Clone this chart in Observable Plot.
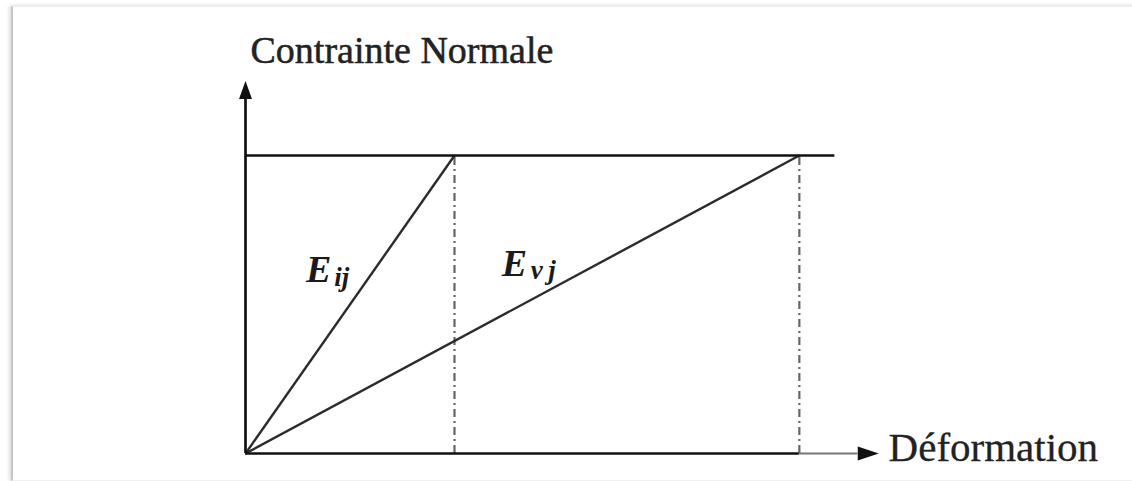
<!DOCTYPE html>
<html>
<head>
<meta charset="utf-8">
<script src="https://cdn.jsdelivr.net/npm/d3@7"></script>
<script src="https://cdn.jsdelivr.net/npm/@observablehq/plot@0.6"></script>
<style>
  html, body { margin: 0; padding: 0; background: #fff; }
  #wrap { position: relative; width: 1132px; height: 481px; overflow: hidden; }
  #frame {
    position: absolute; left: 11px; top: 6px; width: 1140px; height: 473px;
    border-left: 2px solid #c6c6c6; border-top: 1px solid #ededed; border-bottom: 1px solid #f0f0f0;
    box-shadow: -2px 0 4px rgba(0,0,0,0.12), 0 -2px 4px rgba(0,0,0,0.04);
  }
  #chart { position: absolute; left: 0; top: 0; }
</style>
</head>
<body>
<div id="wrap"><div id="frame"></div><div id="chart"></div></div>
<script>
// ---- data (arbitrary units: strain on x, normal stress on y) ----
const stressMax = 1.0;                       // contrainte maximale
const moduli = [                              // strain reached at stressMax
  {name: "ij", strain: 1.0},                  // module instantané E_ij
  {name: "vj", strain: 2.65}                  // module différé E_vj
];
const topLineEnd = 2.82;                      // end of the horizontal stress line
const xAxisBase = 2.93, xAxisTip = 3.03;      // x arrow
const yAxisBase = 1.19, yAxisTip = 1.25;      // y arrow
const axisTitles = {y: "Contrainte Normale", x: "Déformation"};
const labels = [
  {base: "E", sub: "ij", x: 0.29, y: 0.574, xs: 0.425, ys: 0.562},
  {base: "E", sub: "v\u2009j", x: 1.226, y: 0.594, xs: 1.365, ys: 0.584}
];

const triUp = {draw(ctx) { ctx.moveTo(0, 0); ctx.lineTo(-6.5, 18); ctx.lineTo(6.5, 18); ctx.closePath(); }};
const triRight = {draw(ctx) { ctx.moveTo(0, 0); ctx.lineTo(-21, -7); ctx.lineTo(-21, 7); ctx.closePath(); }};

const serif = "'Liberation Serif', 'Times New Roman', serif";

const chart = Plot.plot({
  width: 1132, height: 481,
  marginLeft: 245, marginRight: 260, marginTop: 155, marginBottom: 28,
  x: {domain: [0, 3], axis: null},
  y: {domain: [0, 1], axis: null},
  style: {background: "transparent", overflow: "visible"},
  marks: [
    // dash-dot verticals at the strains reached
    Plot.ruleX(moduli, {x: "strain", y1: 0, y2: stressMax, stroke: "#666", strokeWidth: 2.2, strokeDasharray: "8,4,2,4"}),
    // moduli lines
    Plot.link(moduli, {x1: 0, y1: 0, x2: "strain", y2: stressMax, stroke: "#2b2b2b", strokeWidth: 2.4}),
    // stress level line
    Plot.ruleY([stressMax], {x1: 0, x2: topLineEnd, stroke: "#111", strokeWidth: 2.5}),
    // axes
    Plot.ruleX([0], {y1: 0, y2: yAxisBase, stroke: "#111", strokeWidth: 2.7}),
    Plot.ruleY([0], {x1: 0, x2: moduli[1].strain, stroke: "#111", strokeWidth: 2.7}),
    Plot.ruleY([0], {x1: moduli[1].strain, x2: xAxisBase, stroke: "#777", strokeWidth: 1.8}),
    Plot.dot([{x: 0, y: yAxisTip}], {x: "x", y: "y", symbol: triUp, fill: "#111", stroke: "none"}),
    Plot.dot([{x: xAxisTip, y: 0}], {x: "x", y: "y", symbol: triRight, fill: "#111", stroke: "none"}),
    // axis titles
    Plot.text([axisTitles.y], {x: 0.024, y: 1.312, text: d => d, textAnchor: "start", lineAnchor: "bottom", fontSize: 38, fontFamily: serif, fill: "#222", stroke: "#222", strokeWidth: 0.5}),
    Plot.text([axisTitles.x], {x: 3.077, y: -0.0235, text: d => d, textAnchor: "start", lineAnchor: "bottom", fontSize: 41, fontFamily: serif, fill: "#222", stroke: "#222", strokeWidth: 0.3}),
    // modulus labels
    Plot.text(labels, {x: "x", y: "y", text: "base", textAnchor: "start", lineAnchor: "bottom", fontSize: 38, fontStyle: "italic", fontWeight: "bold", fontFamily: serif, fill: "#1a1a1a"}),
    Plot.text(labels, {x: "xs", y: "ys", text: "sub", textAnchor: "start", lineAnchor: "bottom", fontSize: 27, fontStyle: "italic", fontWeight: "bold", fontFamily: serif, fill: "#1a1a1a"})
  ]
});
document.getElementById("chart").appendChild(chart);
</script>
</body>
</html>
